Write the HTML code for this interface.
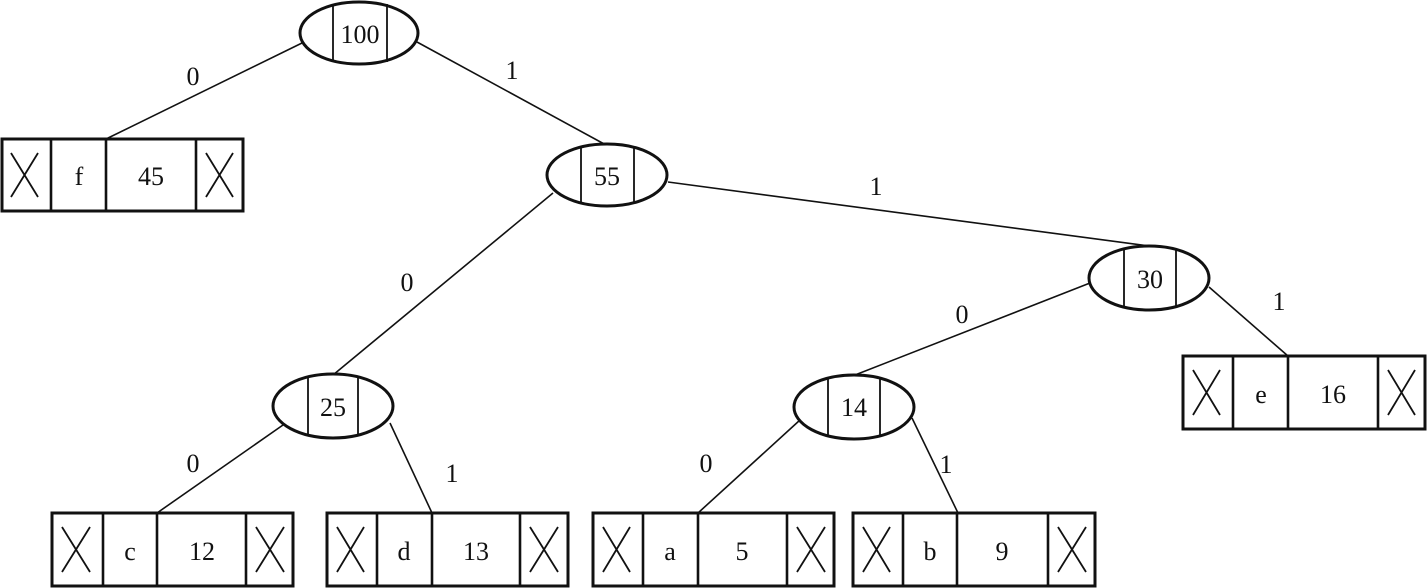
<!DOCTYPE html>
<html><head><meta charset="utf-8"><style>
html,body{margin:0;padding:0;background:#fff;}
svg{display:block;}
text{font-family:"Liberation Serif",serif;font-size:26px;fill:#111;text-anchor:middle;}
</style></head><body>
<svg width="1427" height="588" viewBox="0 0 1427 588" xmlns="http://www.w3.org/2000/svg">
<g stroke="#111" stroke-width="1.6" fill="none">
<line x1="302" y1="43" x2="106" y2="139"/>
<line x1="417" y1="42" x2="606" y2="145"/>
<line x1="668" y1="182" x2="1149" y2="246"/>
<line x1="553" y1="193" x2="333" y2="375"/>
<line x1="1090" y1="283" x2="855" y2="375"/>
<line x1="1209" y1="287" x2="1288" y2="356"/>
<line x1="283" y1="425" x2="157" y2="513"/>
<line x1="390" y1="423" x2="432" y2="513"/>
<line x1="800" y1="420" x2="698" y2="513"/>
<line x1="912" y1="418" x2="958" y2="513"/>
</g>
<g stroke="#111" stroke-width="3" fill="#fff">
<ellipse cx="359" cy="33" rx="59" ry="31"/>
<ellipse cx="607" cy="175" rx="60" ry="31"/>
<ellipse cx="1149" cy="278" rx="60" ry="32"/>
<ellipse cx="333" cy="406" rx="60" ry="32"/>
<ellipse cx="854" cy="407" rx="60" ry="32"/>
</g>
<g stroke="#111" stroke-width="1.8">
<line x1="333" y1="4" x2="333" y2="62"/><line x1="387" y1="4" x2="387" y2="62"/>
<line x1="581" y1="146" x2="581" y2="204"/><line x1="634" y1="146" x2="634" y2="204"/>
<line x1="1124" y1="248" x2="1124" y2="308"/><line x1="1176" y1="248" x2="1176" y2="308"/>
<line x1="308" y1="377" x2="308" y2="435"/><line x1="358" y1="377" x2="358" y2="435"/>
<line x1="828" y1="378" x2="828" y2="437"/><line x1="880" y1="378" x2="880" y2="437"/>
</g>
<text x="360" y="43">100</text>
<text x="607" y="185">55</text>
<text x="1150" y="288">30</text>
<text x="333" y="416">25</text>
<text x="854" y="416">14</text>
<text x="193" y="85">0</text>
<text x="512" y="79">1</text>
<text x="876" y="195">1</text>
<text x="407" y="291">0</text>
<text x="962" y="323">0</text>
<text x="1279" y="310">1</text>
<text x="193" y="472">0</text>
<text x="452" y="482">1</text>
<text x="706" y="472">0</text>
<text x="946" y="473">1</text>
<g stroke="#111" stroke-width="3" fill="#fff">
<rect x="2" y="139" width="241" height="72"/>
<rect x="1183" y="356" width="242" height="73"/>
<rect x="52" y="513" width="241" height="73"/>
<rect x="327" y="513" width="241" height="73"/>
<rect x="593" y="513" width="241" height="73"/>
<rect x="853" y="513" width="242" height="73"/>
</g>
<g stroke="#111" stroke-width="2.6">
<line x1="51" y1="139" x2="51" y2="211"/><line x1="106" y1="139" x2="106" y2="211"/><line x1="196" y1="139" x2="196" y2="211"/>
<line x1="1233" y1="356" x2="1233" y2="429"/><line x1="1288" y1="356" x2="1288" y2="429"/><line x1="1378" y1="356" x2="1378" y2="429"/>
<line x1="103" y1="513" x2="103" y2="586"/><line x1="157" y1="513" x2="157" y2="586"/><line x1="246" y1="513" x2="246" y2="586"/>
<line x1="377" y1="513" x2="377" y2="586"/><line x1="432" y1="513" x2="432" y2="586"/><line x1="520" y1="513" x2="520" y2="586"/>
<line x1="643" y1="513" x2="643" y2="586"/><line x1="698" y1="513" x2="698" y2="586"/><line x1="787" y1="513" x2="787" y2="586"/>
<line x1="903" y1="513" x2="903" y2="586"/><line x1="957" y1="513" x2="957" y2="586"/><line x1="1048" y1="513" x2="1048" y2="586"/>
</g>
<g stroke="#111" stroke-width="1.8">
<path d="M11 153 L38 197 M38 153 L11 197"/>
<path d="M206 153 L233 197 M233 153 L206 197"/>
<path d="M1193 370 L1220 415 M1220 370 L1193 415"/>
<path d="M1388 370 L1415 415 M1415 370 L1388 415"/>
<path d="M62 527 L90 572 M90 527 L62 572"/>
<path d="M256 527 L284 572 M284 527 L256 572"/>
<path d="M337 527 L364 572 M364 527 L337 572"/>
<path d="M530 527 L558 572 M558 527 L530 572"/>
<path d="M603 527 L630 572 M630 527 L603 572"/>
<path d="M797 527 L825 572 M825 527 L797 572"/>
<path d="M863 527 L890 572 M890 527 L863 572"/>
<path d="M1058 527 L1086 572 M1086 527 L1058 572"/>
</g>
<text x="79" y="185">f</text><text x="151" y="185">45</text>
<text x="1261" y="403">e</text><text x="1333" y="403">16</text>
<text x="130" y="560">c</text><text x="202" y="560">12</text>
<text x="404" y="560">d</text><text x="476" y="560">13</text>
<text x="670" y="560">a</text><text x="742" y="560">5</text>
<text x="930" y="560">b</text><text x="1002" y="560">9</text>
</svg>
</body></html>
